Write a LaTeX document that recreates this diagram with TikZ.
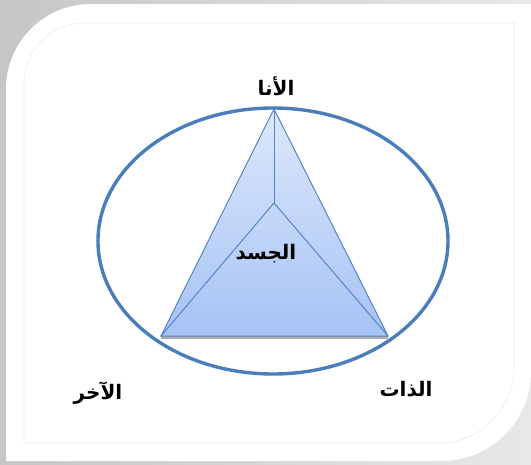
\documentclass[tikz,border=0pt]{standalone}
\usepackage{fontspec}
\newfontfamily\arabicfont[Script=Arabic]{DejaVu Sans}
\TeXXeTstate=1
\usetikzlibrary{positioning}
\definecolor{ringblue}{HTML}{4A7EBB}
\definecolor{edgeblue}{HTML}{5584C8}
\definecolor{topfill}{HTML}{DDE8FB}
\definecolor{botfill}{HTML}{A6C3F5}

\begin{document}
\begin{tikzpicture}[x=1pt,y=-1pt,
  ring/.style={draw=ringblue, line width=3.4pt},
  facet/.style={draw=edgeblue, line width=1pt},
  lbl/.style={font=\arabicfont\bfseries\fontsize{20}{24}\selectfont, inner sep=0pt}]
\useasboundingbox (0,0) rectangle (531,464);
% card and frame
\shade[left color=gray!45, right color=gray!18] (0,0) rectangle (531,464);
\fill[white] (6,89) .. controls (6,42) and (44,4) .. (91,4) -- (531,4) -- (531,371)
  .. controls (531,421) and (491,461) .. (441,461) -- (6,461) -- cycle;
\draw[gray!15, line width=0.6pt] (24,83) .. controls (24,50) and (51,23) .. (84,23) -- (514,23) -- (514,368)
  .. controls (514,409) and (480,443) .. (439,443) -- (24,443) -- cycle;

% triangle
\coordinate (top) at (274,109);
\coordinate (left) at (161,336);
\coordinate (right) at (388,336);
\coordinate (core) at (274,203);
\shade[top color=topfill, bottom color=botfill] (top) -- (left) -- (right) -- cycle;
\draw[gray!65, line width=2.5pt] ([yshift=-1.5pt]left) -- ([yshift=-1.5pt]right);
\draw[facet] (top) -- (left) -- (right) -- cycle;
\draw[facet] (core) -- (top);
\draw[facet] (core) -- (left);
\draw[facet] (core) -- (right);
\draw[ring] (273,241) ellipse [x radius=175, y radius=133];

% labels
\node[lbl] (ana) at (276,86) {\beginR الأنا\endR};
\node[lbl] (jasad) at (266,254) {\beginR الجسد\endR};
\node[lbl] (akhar) at (98,393) {\beginR الآخر\endR};
\node[lbl] (dhat) at (406,389) {\beginR الذات\endR};
\end{tikzpicture}
\end{document}
